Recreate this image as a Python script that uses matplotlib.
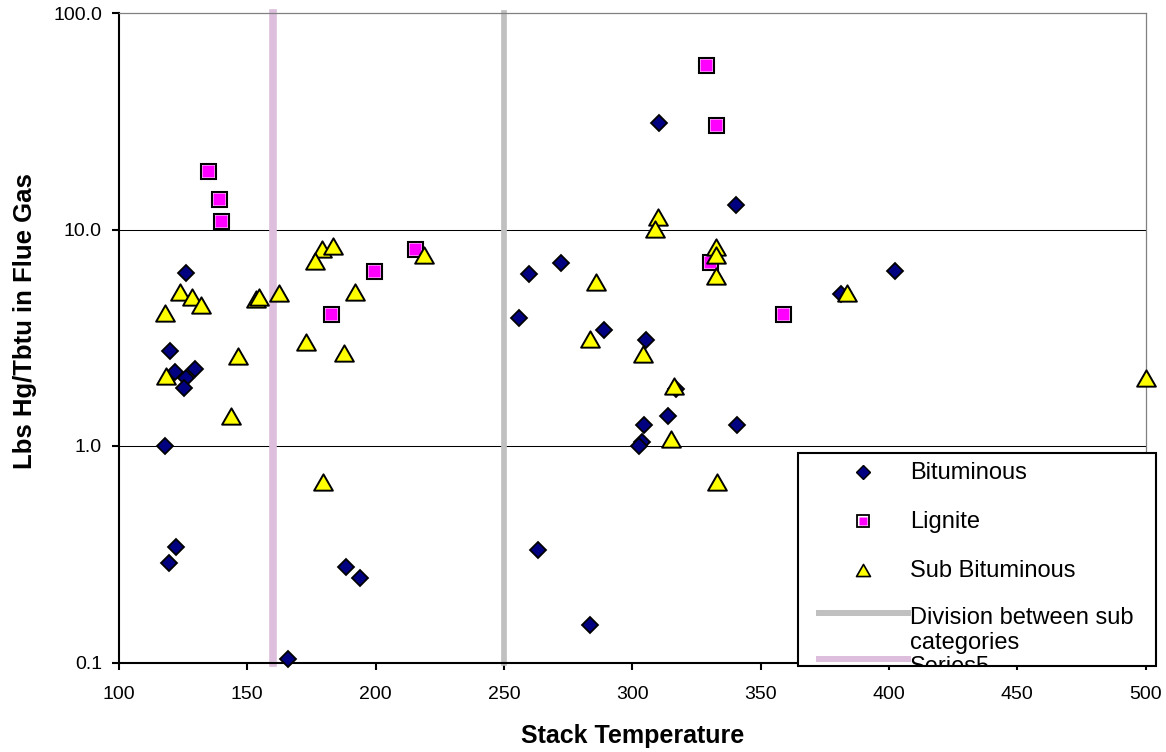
import matplotlib.pyplot as plt
from matplotlib.lines import Line2D
from matplotlib.patches import Rectangle
from matplotlib.path import Path
from matplotlib.transforms import Affine2D
from matplotlib.ticker import NullLocator, FixedFormatter

plt.rcParams['font.family'] = ['Liberation Sans', 'DejaVu Sans']

# Bituminous
bit_temp = [126.1, 119.8, 121.8, 129.6, 126.3, 125.3, 117.9, 122.2, 119.6, 188.3,
            193.8, 166.0, 310.5, 340.3, 259.7, 272.3, 256.0, 289.1, 381.2, 402.4,
            305.3, 317.0, 314.1, 304.5, 303.9, 302.5, 341.0, 263.4, 283.5]
bit_hg = [6.29, 2.75, 2.19, 2.27, 2.06, 1.86, 1.00, 0.340, 0.288, 0.275,
          0.246, 0.104, 31.1, 13.0, 6.22, 7.01, 3.91, 3.44, 5.05, 6.42,
          3.09, 1.83, 1.38, 1.25, 1.04, 1.00, 1.25, 0.332, 0.149]

# Lignite
lig_temp = [134.6, 138.8, 139.6, 182.5, 199.5, 215.4, 328.8, 332.7, 330.4, 358.8]
lig_hg = [18.7, 13.9, 11.0, 4.08, 6.40, 8.09, 57.3, 30.5, 7.07, 4.09]

# Sub Bituminous
sub_temp = [123.7, 128.4, 132.0, 118.0, 153.2, 154.5, 162.4, 179.0, 176.5, 183.3,
            191.8, 218.9, 173.0, 118.3, 146.4, 143.5, 187.8, 179.3, 310.1, 308.8,
            332.8, 332.8, 332.6, 285.9, 383.8, 283.5, 304.0, 316.3, 315.2, 333.1,
            500.0]
sub_hg = [5.17, 4.90, 4.49, 4.11, 4.78, 4.90, 5.10, 8.14, 7.19, 8.35,
          5.17, 7.64, 3.03, 2.11, 2.61, 1.38, 2.68, 0.684, 11.4, 10.07,
          8.29, 7.60, 6.13, 5.75, 5.10, 3.12, 2.66, 1.90, 1.08, 0.684,
          2.06]

# vertical division lines
div_temp = [250, 250]
div_hg = [0.1, 100]
s5_temp = [160, 160]
s5_hg = [0.1, 100]

x_ticks = [100, 150, 200, 250, 300, 350, 400, 450, 500]
y_ticks = [0.1, 1, 10, 100]
y_ticklabels = ['0.1', '1.0', '10.0', '100.0']
grid_levels = [1, 10]

W, H = 1166, 752
fig = plt.figure(figsize=(W / 100, H / 100), dpi=100)
ax = fig.add_axes([119 / W, 1 - 662.5 / H, (1145.5 - 119) / W, (662.5 - 13) / H])

tri = Path([(-1, -0.87), (1, -0.87), (0, 0.87), (-1, -0.87)], closed=True)

for lv in grid_levels:
    ax.axhline(lv, color='black', lw=0.75, zorder=1)

ax.plot(div_temp, div_hg, color='#C0C0C0', lw=4.1, solid_capstyle='projecting',
        clip_on=False, zorder=2)
ax.plot(s5_temp, s5_hg, color='#DDBFDD', lw=5.5, solid_capstyle='projecting',
        clip_on=False, zorder=2)

ax.plot(bit_temp, bit_hg, ls='none', marker='D', ms=8.4, mfc='#000080', mec='black',
        mew=1.3, clip_on=False, zorder=3)
ax.plot(lig_temp, lig_hg, ls='none', marker='s', ms=10.8, mfc='white', mec='black',
        mew=1.5, clip_on=False, zorder=4)
ax.plot(lig_temp, lig_hg, ls='none', marker='s', ms=8.2, mfc='#FF00FF', mec='none',
        clip_on=False, zorder=4)
ax.plot(sub_temp, sub_hg, ls='none', marker=tri, ms=13.5, mfc='#FFFF00', mec='black',
        mew=1.4, clip_on=False, zorder=5)

ax.set_xlim(100, 500)
ax.set_xticks(x_ticks)
ax.set_yscale('log')
ax.set_ylim(0.1, 100)
ax.set_yticks(y_ticks)
ax.yaxis.set_minor_locator(NullLocator())
ax.yaxis.set_major_formatter(FixedFormatter(y_ticklabels))

ax.tick_params(direction='out', length=4.8, width=1.5, labelsize=14, color='black')
ax.tick_params(axis='x', pad=12)
ax.tick_params(axis='y', pad=7.5)

for s in ['left', 'bottom']:
    ax.spines[s].set_color('black')
    ax.spines[s].set_linewidth(1.5)
for s in ['top', 'right']:
    ax.spines[s].set_color('#808080')
    ax.spines[s].set_linewidth(0.9)

ax.set_xlabel('Stack Temperature', fontsize=18, fontweight='bold')
ax.xaxis.set_label_coords(0.5, -0.094)
ax.set_ylabel('Lbs Hg/Tbtu in Flue Gas', fontsize=18.5, fontweight='bold')
ax.yaxis.set_label_coords(-0.0803, 0.525)

# legend box drawn in pixel coordinates (origin top-left)
px = Affine2D().scale(1 / W, -1 / H).translate(0, 1) + fig.transFigure
box = Rectangle((798, 452.7), 358, 213.3, transform=px, fc='white', ec='black',
                lw=1.5, zorder=10)
fig.add_artist(box)

mx = 862.7
fig.add_artist(Line2D([mx], [472], transform=px, marker='D', ms=7, mfc='#000080',
                      mec='black', mew=1, zorder=11))
fig.add_artist(Line2D([mx], [521], transform=px, marker='s', ms=8.3, mfc='white',
                      mec='black', mew=1.3, zorder=11))
fig.add_artist(Line2D([mx], [521], transform=px, marker='s', ms=6, mfc='#FF00FF',
                      mec='none', zorder=11))
fig.add_artist(Line2D([mx], [570], transform=px, marker=tri, ms=10, mfc='#FFFF00',
                      mec='black', mew=1.2, zorder=11))
fig.add_artist(Line2D([819, 908], [613, 613], transform=px, color='#C0C0C0', lw=4.3,
                      zorder=11))
fig.add_artist(Line2D([819, 908], [659, 659], transform=px, color='#DDBFDD', lw=4.3,
                      zorder=11))

leg_text = [('Bituminous', 479), ('Lignite', 528), ('Sub Bituminous', 577),
            ('Division between sub', 624), ('categories', 648.5), ('Series5', 673)]
for label, yb in leg_text:
    t = fig.text(910, yb, label, transform=px, fontsize=17, va='baseline', zorder=12)
    t.set_clip_path(box)

fig.savefig('out.png', dpi=100, facecolor='white')
